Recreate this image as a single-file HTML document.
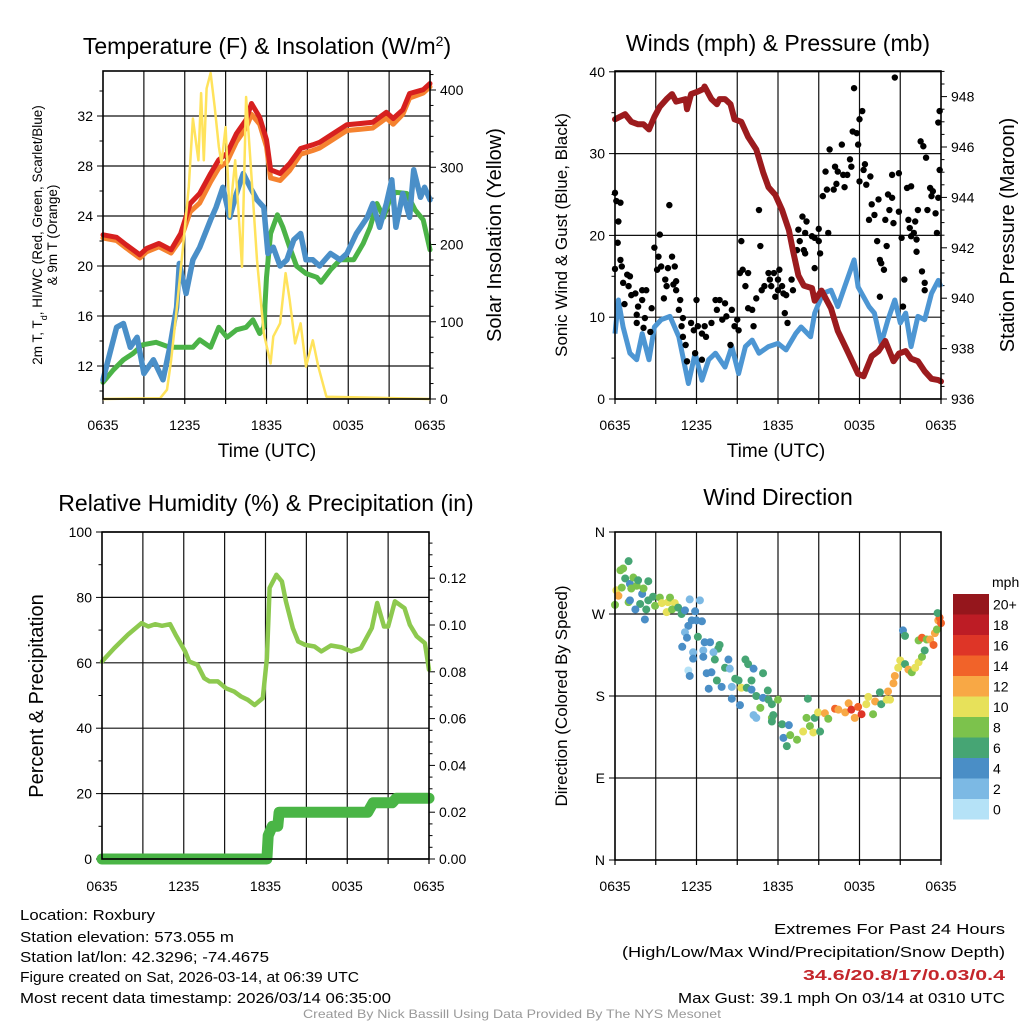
<!DOCTYPE html>
<html><head><meta charset="utf-8">
<style>
html,body{margin:0;padding:0;background:#fff;}
svg{display:block;font-family:"Liberation Sans",sans-serif;}
</style></head>
<body>
<svg id="chart" width="1024" height="1024" viewBox="0 0 1024 1024" xmlns="http://www.w3.org/2000/svg">
<rect width="1024" height="1024" fill="#fff"/>
<g id="layer"></g>
<text x="267" y="54" font-size="23" text-anchor="middle">Temperature (F) &amp; Insolation (W/m<tspan baseline-shift="super" font-size="14">2</tspan>)</text>
<text x="778" y="51" font-size="23" text-anchor="middle">Winds (mph) &amp; Pressure (mb)</text>
<text x="266" y="511" font-size="23" text-anchor="middle">Relative Humidity (%) &amp; Precipitation (in)</text>
<text x="778" y="505" font-size="23" text-anchor="middle">Wind Direction</text>
<text x="267" y="457" font-size="19" text-anchor="middle">Time (UTC)</text>
<text x="776" y="457" font-size="19" text-anchor="middle">Time (UTC)</text>
<g font-size="13.5" text-anchor="middle">
<text transform="translate(42,235) rotate(-90)">2m T, T<tspan baseline-shift="sub" font-size="9">d</tspan>, HI/WC (Red, Green, Scarlet/Blue)</text>
<text transform="translate(57,235) rotate(-90)">&amp; 9m T (Orange)</text>
</g>
<text transform="translate(501,235) rotate(-90)" font-size="20" text-anchor="middle">Solar Insolation (Yellow)</text>
<text transform="translate(567,235) rotate(-90)" font-size="17" text-anchor="middle">Sonic Wind &amp; Gust (Blue, Black)</text>
<text transform="translate(1014,235) rotate(-90)" font-size="20" text-anchor="middle">Station Pressure (Maroon)</text>
<text transform="translate(43,696) rotate(-90)" font-size="20" text-anchor="middle">Percent &amp; Precipitation</text>
<text transform="translate(567,696) rotate(-90)" font-size="17" text-anchor="middle">Direction (Colored By Speed)</text>
<g font-size="15">
<text x="20" y="920" textLength="135" lengthAdjust="spacingAndGlyphs">Location: Roxbury</text>
<text x="20" y="942" textLength="214" lengthAdjust="spacingAndGlyphs">Station elevation: 573.055 m</text>
<text x="20" y="962" textLength="249" lengthAdjust="spacingAndGlyphs">Station lat/lon: 42.3296; -74.4675</text>
<text x="20" y="982" textLength="339" lengthAdjust="spacingAndGlyphs">Figure created on Sat, 2026-03-14, at 06:39 UTC</text>
<text x="20" y="1003" textLength="371" lengthAdjust="spacingAndGlyphs">Most recent data timestamp: 2026/03/14 06:35:00</text>
</g>
<g font-size="15">
<text x="774" y="934" textLength="231" lengthAdjust="spacingAndGlyphs">Extremes For Past 24 Hours</text>
<text x="622" y="957" textLength="383" lengthAdjust="spacingAndGlyphs">(High/Low/Max Wind/Precipitation/Snow Depth)</text>
<text x="803" y="980" textLength="202" lengthAdjust="spacingAndGlyphs" fill="#C4262B" font-weight="bold">34.6/20.8/17/0.03/0.4</text>
<text x="678" y="1003" textLength="327" lengthAdjust="spacingAndGlyphs">Max Gust: 39.1 mph On 03/14 at 0310 UTC</text>
</g>
<text x="303" y="1018" font-size="12" fill="#999" textLength="418" lengthAdjust="spacingAndGlyphs">Created By Nick Bassill Using Data Provided By The NYS Mesonet</text>
</svg>
<script>
// ---------- data ----------
const timeLabels = ["0635","1235","1835","0035","0635"];
const tempTicks = [12,16,20,24,28,32];
const solarTicks = [0,100,200,300,400];
const windTicks = [0,10,20,30,40];
const presTicks = [936,938,940,942,944,946,948];
const rhTicks = [0,20,40,60,80,100];
const precipTicks = [0,0.02,0.04,0.06,0.08,0.10,0.12];
const dirLabels = ["N","E","S","W","N"];
const speedBinLabels = ["0","2","4","6","8","10","12","14","16","18","20+"];
const speedBinColors = ["#B5E2F7","#7CB9E4","#4A8EC6","#46A574","#7CC24C","#E7E15A","#F8A845","#F16329","#DE3527","#BD1C25","#95161C"];

const tempTimes = [0,1.0,1.7,2.7,3.2,4.1,5.0,5.7,6.4,7.1,7.9,8.5,9.1,9.8,10.5,10.9,11.5,12.0,12.3,13.0,13.7,14.5,15.4,15.9,16.9,17.9,18.9,19.8,20.8,21.3,22.0,22.5,23.5,24];
const tempVals = [22.5,22.3,21.7,20.9,21.4,21.8,21.3,22.6,25.0,25.8,27.4,28.5,29.0,30.6,31.7,33.0,31.9,30.1,27.7,27.4,28.2,29.4,29.7,29.9,30.6,31.3,31.4,31.5,32.3,31.8,32.5,33.8,34.1,34.6];
const temp9mVals = [22.4,22.2,21.6,20.8,21.3,21.7,21.2,22.3,24.5,25.2,26.9,28.0,28.5,30.1,31.2,32.3,31.5,29.7,27.2,27.0,27.8,29.1,29.4,29.6,30.3,31.0,31.1,31.2,32.0,31.5,32.3,33.6,34.0,34.5];
const dewTimes = [0,0.5,1.0,1.5,2.0,2.5,3.0,3.7,4.4,4.9,5.4,5.6,6.1,6.6,7.1,7.9,8.3,8.8,9.3,9.8,10.3,10.8,11.3,11.8,12.1,12.5,13.0,13.5,14.0,14.5,14.9,15.4,15.9,16.7,17.4,17.9,18.6,19.4,19.8,20.3,20.8,21.2,21.5,22.0,22.5,22.8,23.3,23.6,24.0];
const dewVals = [10.9,13.0,15.1,15.4,13.5,14.3,11.4,12.5,10.9,13.5,16.7,20.2,17.8,20.5,21.5,23.7,24.7,26.3,23.9,25.8,27.4,26.3,25.3,24.7,21.0,21.5,20.0,20.5,22.1,22.6,20.5,20.5,20.0,21.0,20.5,21.0,22.6,23.9,25.0,23.1,25.0,26.9,23.1,25.8,23.9,27.7,25.5,26.3,25.3];
const wcTimes = [0,0.76,1.5,2.2,2.9,3.9,4.9,5.9,6.6,7.1,7.9,8.5,9.1,9.8,10.5,11.0,11.5,11.8,12.0,12.3,12.8,13.2,13.7,14.2,14.9,15.7,16.0,16.7,17.4,18.4,19.1,19.6,20.1,20.6,21.1,21.5,22.3,22.9,23.5,24.0];
const wcVals = [10.7,11.7,12.5,13.0,13.7,13.9,13.5,13.5,13.5,14.1,13.5,15.1,14.3,14.9,15.1,15.7,14.6,15.1,19.1,22.6,24.1,23.1,21.5,20.0,19.4,19.1,18.7,19.7,20.5,20.5,21.8,23.1,25.0,23.9,25.5,25.9,25.8,24.5,23.7,21.3];
const solarTimes = [0,4.2,4.7,5.0,5.4,5.9,6.3,6.6,7.0,7.2,7.4,7.6,7.9,8.2,8.5,8.7,9.0,9.3,9.7,10.2,10.5,10.9,11.3,11.8,12.3,12.5,13.0,13.4,13.7,14.1,14.5,14.9,15.4,15.8,16.4,24];
const solarVals = [0,1,12,50,115,202,275,363,309,396,309,402,422,378,327,305,352,236,309,171,391,288,180,85,46,81,98,163,128,72,98,42,76,42,3,0];

const windTimes = [0,0.25,0.6,1.1,1.6,2.0,2.5,2.9,3.4,4.05,4.7,5.4,5.9,6.4,6.9,7.4,8.1,8.6,9.1,9.6,10.1,10.6,11.3,12.0,12.6,13.3,13.7,14.4,14.7,15.3,15.9,16.4,16.9,17.6,17.9,18.7,19.1,19.6,20.1,20.6,21.0,21.4,21.8,22.3,22.8,23.3,23.8,24];
const windVals = [8.0,12.1,8.8,5.6,4.8,8.0,4.8,8.8,9.7,10.1,7.6,1.9,5.6,2.3,4.8,5.6,3.9,6.4,3.1,6.4,7.2,5.6,6.4,6.8,6.0,8.0,8.8,7.6,10.5,12.9,13.3,11.3,13.7,17.0,13.7,11.3,10.5,6.8,9.7,12.1,9.3,10.5,6.4,10.1,9.7,12.9,14.5,13.7];
const gustTimes = [0,0.1,0.4,0.25,0,0.2,0.4,0.5,0.9,1.1,0.6,1.0,0.7,1.2,1.5,1.7,1.6,2.0,2.3,2.0,2.2,1.6,2.1,2.6,2.7,2.9,3.2,3.1,3.3,3.4,3.7,3.8,3.6,4.0,4.2,3.9,4.4,4.3,4.5,4.5,4.8,4.7,5.0,4.9,5.0,5.2,5.3,5.6,5.8,5.9,6.0,6.1,6.4,6.6,6.7,6.4,7.1,7.4,7.5,7.7,7.9,8.1,8.2,8.5,8.6,9.0,8.8,9.1,9.2,9.3,9.4,9.6,9.8,9.8,10.1,10.2,10.4,10.6,10.7,10.8,11.0,11.3,11.4,11.5,11.7,11.8,12.0,12.1,12.0,12.3,12.4,12.5,12.6,12.7,13.0,13.1,13.4,13.5,13.8,13.6,13.9,14.0,14.1,14.0,14.5,14.7,14.7,15.0,15.1,15.0,15.3,15.5,15.7,15.6,15.8,16.1,16.2,16.3,16.4,16.7,16.8,16.9,17.1,17.3,17.4,17.5,17.6,17.8,17.9,18.0,18.2,18.0,18.3,18.4,18.5,18.8,18.7,18.9,19.1,19.3,19.4,19.5,19.6,19.8,19.5,19.9,20.0,20.1,20.2,20.4,20.6,20.4,20.5,20.9,20.9,21.1,21.2,21.3,21.5,21.6,21.7,21.8,21.8,22.0,22.1,22.2,22.3,22.2,22.5,22.6,22.7,22.8,22.9,23.0,23.2,23.3,23.4,23.6,23.7,23.8,23.9,23.9,23.8,22.8];
const gustVals = [25.2,24.2,24.0,21.7,15.9,19.1,17.0,16.2,15.2,15.0,14.2,13.8,11.6,12.7,12.9,11.3,10.3,13.3,13.3,12.1,9.9,9.3,8.7,8.2,11.1,18.5,17.4,15.8,20.1,16.2,14.6,13.8,12.3,23.7,17.4,16.0,16.2,14.0,14.4,13.3,12.1,10.9,9.9,8.9,7.6,6.6,4.6,9.3,8.4,5.6,12.1,8.9,8.0,8.9,7.6,4.8,9.3,12.1,10.9,12.1,9.7,11.7,10.1,6.6,10.9,9.7,8.9,8.4,15.4,19.3,15.8,13.8,15.4,11.1,10.9,8.9,12.3,23.1,18.7,13.3,13.8,15.4,14.6,13.8,15.4,12.5,14.6,15.8,13.3,13.8,12.9,10.5,12.7,9.3,14.6,13.3,18.2,20.7,22.3,19.3,18.2,17.8,21.7,20.3,19.9,19.7,16.0,19.3,17.8,20.8,24.8,27.8,20.3,25.6,30.5,25.6,28.4,26.3,27.8,31.1,27.4,25.9,27.4,29.3,28.4,32.7,38.0,32.5,31.1,34.2,35.2,26.6,28.0,28.7,26.2,27.2,21.9,23.8,22.5,19.3,24.4,17.0,16.6,15.8,12.5,21.9,18.7,25.0,23.1,27.4,39.3,24.6,21.5,22.9,27.6,19.7,11.3,14.6,25.8,21.9,20.9,26.0,19.9,20.3,21.7,19.5,23.1,18.0,31.5,15.6,30.9,14.2,29.5,23.1,25.8,24.8,25.4,22.7,20.3,33.8,35.2,28.0,24.6,13.3];
const presTimes = [0,0.74,1.2,1.7,2.1,2.5,2.9,3.3,3.8,4.2,4.5,5.2,5.3,5.6,6.1,6.5,6.6,7.1,7.5,7.7,8.1,8.5,8.8,9.3,9.8,10.4,10.9,11.3,11.8,12.3,12.8,13.1,13.5,13.9,14.5,14.7,15.2,15.9,16.4,17.2,17.9,18.3,18.9,19.4,19.9,20.5,20.9,21.4,21.8,22.3,22.8,23.3,23.8,24];
const presVals = [947.1,947.3,947.0,946.9,946.9,946.7,947.2,947.6,947.9,948.1,947.8,947.9,947.5,948.1,948.2,948.3,948.4,947.9,947.7,947.9,947.9,947.7,947.1,947.0,946.4,945.9,945.0,944.4,944.1,943.5,942.7,941.9,940.9,940.5,940.4,939.9,940.3,939.6,938.7,937.8,937.0,936.9,937.7,937.9,938.3,937.5,937.8,937.9,937.6,937.5,937.1,936.8,936.75,936.7];

const rhTimes = [0,0.9,1.9,2.9,3.4,3.9,4.4,5.0,5.4,6.1,6.4,7.0,7.5,7.9,8.5,9.1,9.7,10.2,10.7,11.2,11.8,12.1,12.3,12.8,13.2,13.5,14.0,14.4,14.9,15.6,16.1,16.8,17.6,18.3,19.0,19.8,20.2,20.7,21.0,21.5,22.2,22.6,23.1,23.7,24.0];
const rhVals = [60.4,64.5,68.6,72.1,71.1,71.8,71.3,71.8,68.6,63.5,60.4,59.4,55.3,54.3,54.3,52.2,51.2,49.7,48.7,47.1,49.2,61.4,82.9,86.9,84.9,78.8,70.6,66.5,65.5,65.0,63.5,65.3,64.7,63.5,64.5,70.6,78.3,71.1,71.1,78.8,76.7,71.6,68.1,66.0,57.9];
const precipTimes = [0,12.1,12.2,12.5,12.9,13.0,19.5,19.9,21.3,21.6,24];
const precipVals = [0,0,0.010,0.014,0.014,0.020,0.020,0.024,0.024,0.026,0.026];

const dirTimes = [0,0.1,0.25,0.5,0.4,0.6,1.0,0.75,1.1,1.35,1.2,1.6,1.7,2.0,1.85,2.1,2.45,1.0,1.1,1.5,2.2,2.3,2.45,2.8,2.95,3.3,3.45,3.9,4.05,4.4,3.8,4.2,4.65,4.9,5.15,5.5,6.25,5.9,6.0,5.65,6.4,5.4,5.15,5.3,6.1,4.95,6.6,7.0,7.7,7.6,5.75,6.5,7.25,5.75,6.5,7.35,8.35,8.1,8.45,5.4,5.5,6.75,7.1,7.5,6.9,7.85,8.6,8.85,9.1,9.6,9.8,10.2,10.9,10.05,9.3,9.7,10.05,10.4,10.9,11.25,11.3,11.55,12.0,8.6,9.2,10.2,10.4,10.7,11.55,11.65,11.55,12.3,12.8,12.4,12.65,12.9,13.4,13.85,14.1,14.2,14.35,14.6,14.7,15.1,14.95,15.45,15.7,16.2,16.45,16.95,17.2,17.4,17.65,17.9,18.15,18.5,18.65,19.0,19.15,19.5,19.6,20.0,20.1,20.25,20.5,20.6,20.85,21.0,21.35,21.6,21.85,22.1,22.35,22.6,22.8,22.35,22.6,22.95,23.2,23.45,23.55,23.7,23.8,23.9,24.0,23.75,21.2,21.35];
const dirVals = [280,296,290,299,318,320,328,309,303,310,298,301,307,292,281,298,306,283,285,275,264,275,285,289,279,288,282,283,288,282,272,275,277,270,274,286,285,273,263,263,262,257,250,244,245,234,239,239,236,232,228,230,228,221,223,220,220,211,210,208,202,205,206,197,188,190,190,199,197,220,215,210,205,197,189,189,187,180,178,186,176,171,176,177,170,159,156,167,156,159,152,149,148,134,125,137,132,141,156,177,147,140,156,141,162,161,155,166,165,162,172,165,156,168,160,171,179,160,174,184,171,176,185,176,194,202,211,219,215,209,206,211,217,223,230,241,244,242,242,236,249,253,263,266,260,271,252,246];
const dirSpeeds = [9,11,13,9,9,9,7,7,5,9,9,9,7,5,7,9,7,9,5,5,5,7,7,7,9,9,11,11,9,11,11,9,7,7,5,3,3,5,5,5,5,5,3,5,7,5,5,5,7,7,3,3,3,5,5,7,5,7,3,1,5,5,5,7,5,5,3,7,7,7,7,5,7,7,11,7,5,7,5,7,7,7,9,5,5,3,3,9,9,7,7,7,5,5,7,9,9,11,9,7,9,11,7,7,11,13,9,15,13,13,13,17,13,15,17,11,11,9,13,7,7,11,13,11,13,13,11,11,7,13,9,11,11,9,7,9,15,9,13,15,13,9,13,15,15,7,5,7];

// ---------- helpers ----------
const NS = "http://www.w3.org/2000/svg";
const layer = document.getElementById('layer');
function mk(tag, attrs, parent){
  const e = document.createElementNS(NS, tag);
  for (const k in attrs) e.setAttribute(k, attrs[k]);
  (parent || layer).appendChild(e);
  return e;
}
function poly(ts, vs, fx, fy){ return ts.map((t,i)=>fx(t).toFixed(1)+","+fy(vs[i]).toFixed(1)).join(" "); }

function frame(x0,y0,x1,y1,name){
  const g = mk('g',{});
  
  
  for (let h=3; h<24; h+=3){
    const x = x0 + (x1-x0)*h/24;
    mk('line',{x1:x,y1:y0,x2:x,y2:y1,stroke:'#111','stroke-width':1.2},g);
  }
  for (let h=0; h<=24; h+=3){
    const x = x0 + (x1-x0)*h/24;
    mk('line',{x1:x,y1:y1,x2:x,y2:y1+5,stroke:'#000','stroke-width':1.2},g);
  }
  return g;
}
function box(x0,y0,x1,y1,name){
  const r = mk('rect',{x:x0,y:y0,width:x1-x0,height:y1-y0,fill:'none',stroke:'#000','stroke-width':1.6});
  
  
}
function hgrid(g,x0,x1,y){ mk('line',{x1:x0,y1:y,x2:x1,y2:y,stroke:'#111','stroke-width':1.2},g); }
function xlabels(x0,x1,y,name){
  timeLabels.forEach((l,i)=>{
    const t = mk('text',{x:x0+(x1-x0)*i/4,y:y,'font-size':14,'text-anchor':'middle'});
    t.textContent = l;
    
    
  });
}
function ytick(x,y,side,major,label,name){
  const len = major?6:3.5;
  mk('line',{x1:x,y1:y,x2:side<0?x-len:x+len,y2:y,stroke:'#000','stroke-width':1});
  if (label!==null){
    const t = mk('text',{x:side<0?x-10:x+10,y:y+5,'font-size':14,'text-anchor':side<0?'end':'start'});
    t.textContent = label;
    
    
  }
}

// ---------- Panel 1: temperature ----------
(function(){
  const X0=103,X1=430,Y0=71,Y1=399;
  const fx = t=>X0+(X1-X0)*t/24;
  const fy = v=>116+(32-v)*12.5;
  const fs = s=>399-s*0.7725;
  const g = frame(X0,Y0,X1,Y1,'temperature');
  tempTicks.forEach(v=>hgrid(g,X0,X1,fy(v)));
  for (let v=10; v<=35; v+=2) if (fy(v)>Y0 && fy(v)<Y1) ytick(X0,fy(v),-1,v%4===0,v%4===0?String(v):null,'temperature-y');
  for (let s=0; s<=420; s+=20) if (fs(s)>=Y0) ytick(X1,fs(s),1,s%100===0,s%100===0?String(s):null,'solar-y');
  xlabels(X0,X1,430,'temperature');
  let p;
  p = mk('polyline',{points:poly(wcTimes,wcVals,fx,fy),fill:'none',stroke:'#4BB347','stroke-width':5,'stroke-linejoin':'round','stroke-linecap':'round'});
   
  p = mk('polyline',{points:poly(dewTimes,dewVals,fx,fy),fill:'none',stroke:'#4A8FC8','stroke-width':5.5,'stroke-linejoin':'round','stroke-linecap':'round'});
   
  p = mk('polyline',{points:poly(tempTimes,temp9mVals,fx,v=>fy(v)+2),fill:'none',stroke:'#F5822F','stroke-width':5,'stroke-linejoin':'round','stroke-linecap':'round'});
   
  p = mk('polyline',{points:poly(tempTimes,tempVals,fx,fy),fill:'none',stroke:'#D7201F','stroke-width':5,'stroke-linejoin':'round','stroke-linecap':'round'});
   
  p = mk('polyline',{points:poly(solarTimes,solarVals,fx,fs),fill:'none',stroke:'#FFE35C','stroke-width':2.5,'stroke-linejoin':'round'});
   
  box(X0,Y0,X1,Y1,'temperature');
})();

// ---------- Panel 2: winds ----------
(function(){
  const X0=615,X1=941,Y0=71,Y1=399;
  const fx = t=>X0+(X1-X0)*t/24;
  const fw = v=>399-v*8.18;
  const fp = v=>399-(v-936)*25.2;
  const g = frame(X0,Y0,X1,Y1,'winds');
  windTicks.forEach(v=>hgrid(g,X0,X1,fw(v)));
  for (let v=0; v<=40; v+=5) ytick(X0,fw(v),-1,v%10===0,v%10===0?String(v):null,'wind-y');
  for (let v=936; v<=949; v+=0.5) if (fp(v)>=Y0) ytick(X1,fp(v),1,Math.abs(v%2)<0.01,Math.abs(v%2)<0.01?String(v):null,'pressure-y');
  xlabels(X0,X1,430,'winds');
  let p = mk('polyline',{points:poly(windTimes,windVals,fx,fw),fill:'none',stroke:'#4D96D3','stroke-width':5,'stroke-linejoin':'round'});
   
  gustTimes.forEach((t,i)=>{
    const c = mk('circle',{cx:fx(t),cy:fw(gustVals[i]),r:3.2,fill:'#000'});
    
    
  });
  p = mk('polyline',{points:poly(presTimes,presVals,fx,fp),fill:'none',stroke:'#9C1B1E','stroke-width':6,'stroke-linejoin':'round','stroke-linecap':'round'});
   
  box(X0,Y0,X1,Y1,'winds');
})();

// ---------- Panel 3: humidity ----------
(function(){
  const X0=102,X1=429,Y0=532,Y1=859;
  const fx = t=>X0+(X1-X0)*t/24;
  const fr = v=>859-v*3.27;
  const fq = v=>859-v*2340;
  const g = frame(X0,Y0,X1,Y1,'humidity');
  rhTicks.forEach(v=>hgrid(g,X0,X1,fr(v)));
  for (let v=0; v<=100; v+=10) ytick(X0,fr(v),-1,v%20===0,v%20===0?String(v):null,'humidity-y');
  for (let k=0; k<=28; k++){ const v=k*0.005; if (fq(v)>=Y0) ytick(X1,fq(v),1,k%4===0,k%4===0?v.toFixed(2):null,'precip-y'); }
  xlabels(X0,X1,891,'humidity');
  let p = mk('polyline',{points:poly(rhTimes,rhVals,fx,fr),fill:'none',stroke:'#8DC94F','stroke-width':4.5,'stroke-linejoin':'round','stroke-linecap':'round'});
   
  p = mk('polyline',{points:poly(precipTimes,precipVals,fx,fq),fill:'none',stroke:'#4AB546','stroke-width':11,'stroke-linejoin':'round','stroke-linecap':'round'});
   
  box(X0,Y0,X1,Y1,'humidity');
})();

// ---------- Panel 4: wind direction ----------
(function(){
  const X0=615,X1=941,Y0=532,Y1=860;
  const fx = t=>X0+(X1-X0)*t/24;
  const fd = d=>860-d*(328/360);
  const g = frame(X0,Y0,X1,Y1,'direction');
  [90,180,270].forEach(d=>hgrid(g,X0,X1,fd(d)));
  dirLabels.forEach((l,i)=>ytick(X0,fd(i*90),-1,true,l,'direction-y'));
  xlabels(X0,X1,891,'direction');
  dirTimes.forEach((t,i)=>{
    const bin = Math.min(10, Math.floor(dirSpeeds[i]/2));
    const c = mk('circle',{cx:fx(t),cy:fd(dirVals[i]),r:4,fill:speedBinColors[bin]});
    
    
  });
  box(X0,Y0,X1,Y1,'direction');
  const cb = mk('g',{});
  
  
  const h = 20.5, top = 594;
  speedBinColors.forEach((c,i)=>{
    const y = top + (10-i)*h;
    mk('rect',{x:953,y:y,width:36,height:h,fill:c},cb);
    const t = mk('text',{x:993,y:y+h/2+5,'font-size':14},cb);
    t.textContent = speedBinLabels[i];
  });
  const u = mk('text',{x:992,y:587,'font-size':14},cb); u.textContent='mph';
})();
</script>
</body></html>
